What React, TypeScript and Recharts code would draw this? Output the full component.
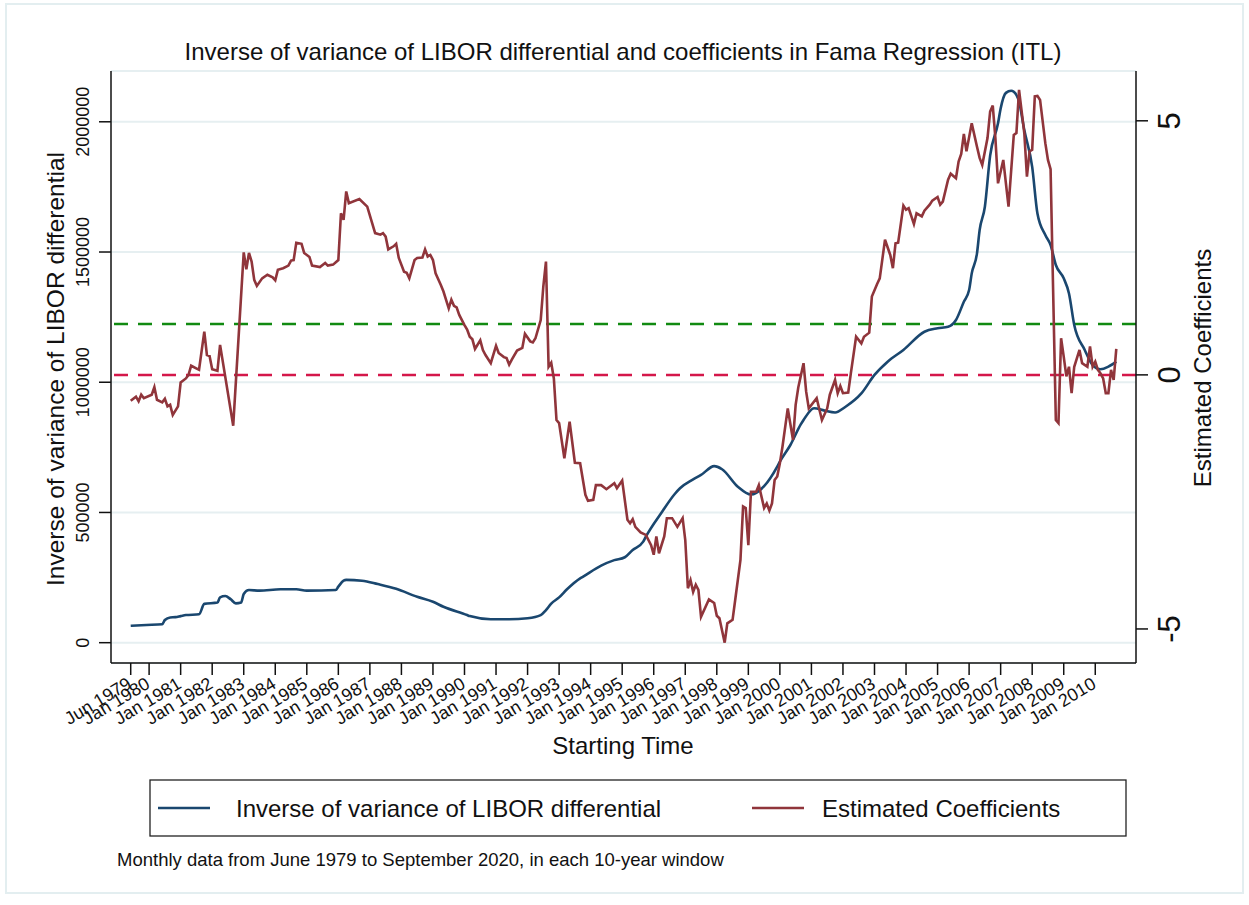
import { LineChart, Line, XAxis, YAxis, CartesianGrid, ReferenceLine } from 'recharts'

// x = months since Jun 1979 (start of each 10-year window)
const tickMonths = [0, 7, 19, 31, 43, 55, 67, 79, 91, 103, 115, 127, 139, 151, 163, 175, 187, 199, 211, 223, 235, 247, 259, 271, 283, 295, 307, 319, 331, 343, 355, 367]
const tickLabels = ['Jun 1979', 'Jan 1980', 'Jan 1981', 'Jan 1982', 'Jan 1983', 'Jan 1984', 'Jan 1985', 'Jan 1986', 'Jan 1987', 'Jan 1988', 'Jan 1989', 'Jan 1990', 'Jan 1991', 'Jan 1992', 'Jan 1993', 'Jan 1994', 'Jan 1995', 'Jan 1996', 'Jan 1997', 'Jan 1998', 'Jan 1999', 'Jan 2000', 'Jan 2001', 'Jan 2002', 'Jan 2003', 'Jan 2004', 'Jan 2005', 'Jan 2006', 'Jan 2007', 'Jan 2008', 'Jan 2009', 'Jan 2010']

const leftTicks = [0, 500000, 1000000, 1500000, 2000000]
const rightTicks = [-5, 0, 5]

// [month, inverse of variance]
const invVarPoints: [number, number][] = [
  [0, 65000], [6, 68000], [12, 71000], [13, 87000], [15, 97000], [17, 98000], [19, 102000], [21, 106000], [26, 109000], [28, 149000],
  [33, 154000], [34, 174000], [36, 179000], [38, 167000], [40, 151000], [42, 154000], [43, 187000], [45, 202000], [49, 200000], [57, 205000],
  [63, 205000], [67, 200000], [78, 202000], [79, 215000], [81, 238000], [82, 241000], [88, 238000], [94, 225000], [101, 207000], [109, 176000],
  [115, 157000], [119, 138000], [128, 106000], [129, 102000], [137, 90000], [144, 90000], [151, 94000], [156, 106000], [158, 125000], [160, 150000],
  [163, 174000], [166, 205000], [171, 247000], [172, 253000], [179, 296000], [184, 317000], [188, 328000], [191, 356000], [195, 388000], [196, 407000],
  [202, 500000], [207, 571000], [209, 593000], [214, 627000], [217, 644000], [222, 678000], [225, 666000], [231, 599000], [236, 569000], [241, 601000],
  [246, 676000], [247, 695000], [251, 759000], [255, 839000], [256, 855000], [260, 900000], [264, 891000], [268, 884000], [272, 906000], [278, 957000],
  [283, 1028000], [288, 1079000], [294, 1124000], [302, 1194000], [307, 1207000], [311, 1213000], [314, 1239000], [317, 1309000], [319, 1354000], [320, 1418000],
  [322, 1495000], [323, 1584000], [325, 1674000], [327, 1870000], [330, 1994000], [331, 2051000], [333, 2111000], [335, 2119000], [336, 2115000], [338, 2077000],
  [340, 1968000], [343, 1827000], [345, 1648000], [348, 1565000], [350, 1527000], [352, 1450000], [355, 1399000], [357, 1341000], [359, 1220000], [363, 1124000],
  [366, 1066000], [369, 1050000], [372, 1060000], [375, 1079000],
]

// [month, estimated coefficient]
const coefPoints: [number, number][] = [
  [0, -0.51], [2, -0.43], [3, -0.52], [4, -0.39], [5, -0.46], [8, -0.39], [9, -0.24], [10, -0.49], [12, -0.54], [13, -0.47],
  [14, -0.62], [15, -0.59], [16, -0.79], [18, -0.62], [19, -0.15], [21, -0.07], [22, 0.0], [23, 0.18], [26, 0.1], [28, 0.85],
  [29, 0.39], [30, 0.37], [31, 0.11], [33, 0.08], [34, 0.59], [39, -1.0], [43, 2.41], [44, 2.08], [45, 2.4], [46, 2.23],
  [47, 1.87], [48, 1.75], [50, 1.9], [52, 1.97], [54, 1.92], [55, 1.86], [56, 2.07], [58, 2.1], [60, 2.15], [61, 2.25],
  [62, 2.26], [63, 2.6], [65, 2.58], [66, 2.4], [68, 2.32], [69, 2.15], [72, 2.12], [74, 2.2], [75, 2.15], [77, 2.17],
  [79, 2.26], [80, 3.18], [81, 3.05], [82, 3.61], [83, 3.38], [87, 3.46], [90, 3.31], [93, 2.79], [95, 2.76], [96, 2.79],
  [97, 2.72], [98, 2.47], [100, 2.53], [101, 2.58], [102, 2.3], [104, 2.03], [105, 2.01], [106, 1.9], [108, 2.26], [109, 2.3],
  [111, 2.31], [112, 2.47], [113, 2.33], [114, 2.36], [115, 2.26], [116, 2.0], [118, 1.77], [119, 1.64], [121, 1.31], [122, 1.48],
  [123, 1.36], [124, 1.33], [125, 1.18], [127, 0.98], [128, 0.89], [129, 0.75], [130, 0.7], [131, 0.51], [133, 0.68], [134, 0.49],
  [135, 0.39], [137, 0.23], [139, 0.57], [140, 0.43], [142, 0.35], [143, 0.33], [144, 0.2], [145, 0.3], [147, 0.48], [149, 0.53],
  [150, 0.81], [152, 0.66], [153, 0.64], [154, 0.72], [156, 1.08], [157, 1.74], [158, 2.23], [159, 0.16], [160, 0.24], [161, -0.07],
  [162, -0.89], [163, -0.95], [165, -1.64], [167, -0.92], [169, -1.73], [171, -1.74], [173, -2.36], [174, -2.48], [176, -2.46], [177, -2.17],
  [179, -2.17], [181, -2.25], [184, -2.13], [185, -2.23], [187, -2.08], [189, -2.85], [190, -2.92], [191, -2.84], [192, -2.99], [194, -3.1],
  [196, -3.15], [198, -3.35], [199, -3.54], [200, -3.18], [201, -3.51], [203, -3.18], [204, -2.82], [206, -2.82], [208, -2.99], [210, -2.82],
  [211, -3.25], [212, -4.2], [213, -4.04], [214, -4.27], [215, -4.13], [216, -4.23], [217, -4.76], [220, -4.42], [222, -4.49], [223, -4.74],
  [224, -4.79], [226, -5.27], [227, -4.89], [229, -4.82], [230, -4.43], [232, -3.64], [233, -2.59], [234, -2.62], [235, -3.35], [236, -2.3],
  [238, -2.3], [239, -2.17], [241, -2.62], [242, -2.53], [243, -2.67], [244, -2.53], [245, -2.07], [246, -2.0], [247, -1.74], [248, -1.41],
  [250, -0.66], [252, -1.28], [253, -0.59], [254, -0.25], [256, 0.23], [257, -0.33], [258, -0.66], [261, -0.46], [263, -0.89], [265, -0.66],
  [266, -0.39], [268, -0.1], [269, -0.36], [270, -0.22], [271, -0.36], [273, -0.35], [274, 0.03], [276, 0.75], [278, 0.62], [279, 0.75],
  [281, 0.83], [282, 1.54], [284, 1.79], [285, 1.9], [287, 2.66], [289, 2.36], [290, 2.1], [291, 2.59], [292, 2.6], [294, 3.33],
  [295, 3.25], [296, 3.28], [298, 2.97], [299, 3.18], [301, 3.12], [302, 3.23], [304, 3.35], [305, 3.43], [307, 3.5], [308, 3.35],
  [309, 3.41], [311, 3.84], [312, 3.96], [314, 3.87], [315, 4.2], [316, 4.35], [317, 4.74], [318, 4.4], [320, 4.95], [322, 4.49],
  [323, 4.27], [324, 4.13], [326, 4.66], [327, 5.18], [328, 5.3], [329, 4.66], [330, 3.77], [332, 4.23], [334, 3.31], [336, 4.72],
  [337, 4.76], [338, 5.61], [340, 4.76], [341, 3.9], [342, 4.4], [343, 4.43], [344, 5.48], [345, 5.49], [346, 5.41], [348, 4.56],
  [349, 4.23], [350, 4.05], [352, -0.89], [353, -0.95], [354, 0.72], [355, 0.36], [356, -0.03], [357, 0.16], [358, -0.36], [359, 0.16],
  [361, 0.49], [362, 0.23], [364, 0.16], [365, 0.56], [366, 0.16], [367, 0.26], [368, 0.1], [369, 0.03], [370, -0.07], [371, -0.36],
  [372, -0.36], [373, 0.1], [374, -0.1], [375, 0.51],
]

const FONT = '"Liberation Sans", Arial, Helvetica, sans-serif'

const series = [
  { id: 'inv', name: 'Inverse of variance of LIBOR differential', color: '#1a476f', axis: 'left', curve: 'monotone', data: invVarPoints.map(([m, v]) => ({ m, v })) },
  { id: 'coef', name: 'Estimated Coefficients', color: '#90353b', axis: 'right', curve: 'linear', data: coefPoints.map(([m, v]) => ({ m, v })) },
]

const XTick = (props: any) => {
  const { x, y, payload } = props
  const label = tickLabels[tickMonths.indexOf(payload.value)]
  const by = y + 10
  return (
    <text x={x + 2} y={by} textAnchor="end" fontSize={18} fontFamily={FONT} fill="#111" transform={`rotate(-31 ${x + 2} ${by})`}>
      {label}
    </text>
  )
}

const LeftTick = (props: any) => {
  const { x, y, payload } = props
  const bx = x - 8
  return (
    <text x={bx} y={y} textAnchor="middle" fontSize={18} fontFamily={FONT} fill="#111" transform={`rotate(-90 ${bx} ${y})`}>
      {payload.value}
    </text>
  )
}

const RightTick = (props: any) => {
  const { x, y, payload } = props
  const bx = x + 30
  return (
    <text x={bx} y={y} textAnchor="middle" fontSize={31} fontFamily={FONT} fill="#111" transform={`rotate(-90 ${bx} ${y})`}>
      {payload.value}
    </text>
  )
}

const legendX = [{ line: 158, text: 236 }, { line: 752, text: 822 }]

export default function App() {
  return (
    <div style={{ position: 'absolute', left: 0, top: 0, width: 1249, height: 905, background: '#fff' }}>
      <LineChart width={1249} height={905} margin={{ top: 71, right: 0, bottom: 162, left: 0 }}>
        <CartesianGrid yAxisId="left" vertical={false} stroke="#e6eff1" strokeWidth={2} />
        <XAxis
          type="number"
          dataKey="m"
          domain={[-7.5, 382.5]}
          allowDataOverflow
          ticks={tickMonths}
          interval={0}
          height={80}
          tickSize={12}
          tick={<XTick />}
          axisLine={{ stroke: '#111', strokeWidth: 1.5 }}
          tickLine={{ stroke: '#111', strokeWidth: 1.5 }}
        />
        <YAxis
          yAxisId="left"
          orientation="left"
          type="number"
          domain={[-78000, 2195000]}
          allowDataOverflow
          ticks={leftTicks}
          interval={0}
          width={111}
          tickSize={12}
          tick={<LeftTick />}
          axisLine={{ stroke: '#111', strokeWidth: 1.5 }}
          tickLine={{ stroke: '#111', strokeWidth: 1.5 }}
        />
        <YAxis
          yAxisId="right"
          orientation="right"
          type="number"
          domain={[-5.67, 5.98]}
          allowDataOverflow
          ticks={rightTicks}
          interval={0}
          width={113}
          tickSize={12}
          tick={<RightTick />}
          axisLine={{ stroke: '#111', strokeWidth: 1.5 }}
          tickLine={{ stroke: '#111', strokeWidth: 1.5 }}
        />
        <ReferenceLine yAxisId="right" y={1} stroke="#118a11" strokeWidth={2.5} strokeDasharray="14 10" />
        <ReferenceLine yAxisId="right" y={0} stroke="#d4174a" strokeWidth={2.5} strokeDasharray="14 10" />
        {series.map((s) => (
          <Line
            key={s.id}
            yAxisId={s.axis}
            data={s.data}
            dataKey="v"
            name={s.name}
            type={s.curve as any}
            stroke={s.color}
            strokeWidth={2.6}
            dot={false}
            activeDot={false}
            isAnimationActive={false}
          />
        ))}
      </LineChart>
      <svg width={1249} height={905} style={{ position: 'absolute', left: 0, top: 0, pointerEvents: 'none' }}>
        <rect x={6} y={4} width={1237} height={889} fill="none" stroke="#e3eef0" strokeWidth={2} />
        <text x={623} y={60} textAnchor="middle" fontSize={24} fontFamily={FONT} fill="#111">
          Inverse of variance of LIBOR differential and coefficients in Fama Regression (ITL)
        </text>
        <text x={64} y={369} textAnchor="middle" fontSize={24.5} fontFamily={FONT} fill="#111" transform="rotate(-90 64 369)">
          Inverse of variance of LIBOR differential
        </text>
        <text x={1211} y={368} textAnchor="middle" fontSize={24} fontFamily={FONT} fill="#111" transform="rotate(-90 1211 368)">
          Estimated Coefficients
        </text>
        <text x={623} y={754} textAnchor="middle" fontSize={24} fontFamily={FONT} fill="#111">
          Starting Time
        </text>
        <rect x={150} y={780} width={976} height={56} fill="#fff" stroke="#222" strokeWidth={1.3} />
        {series.map((s, i) => (
          <g key={s.id}>
            <line x1={legendX[i].line} x2={legendX[i].line + 52} y1={808} y2={808} stroke={s.color} strokeWidth={2.6} />
            <text x={legendX[i].text} y={817} fontSize={24} fontFamily={FONT} fill="#111">
              {s.name}
            </text>
          </g>
        ))}
        <text x={117} y={866} fontSize={18.5} fontFamily={FONT} fill="#111">
          Monthly data from June 1979 to September 2020, in each 10-year window
        </text>
      </svg>
    </div>
  )
}
